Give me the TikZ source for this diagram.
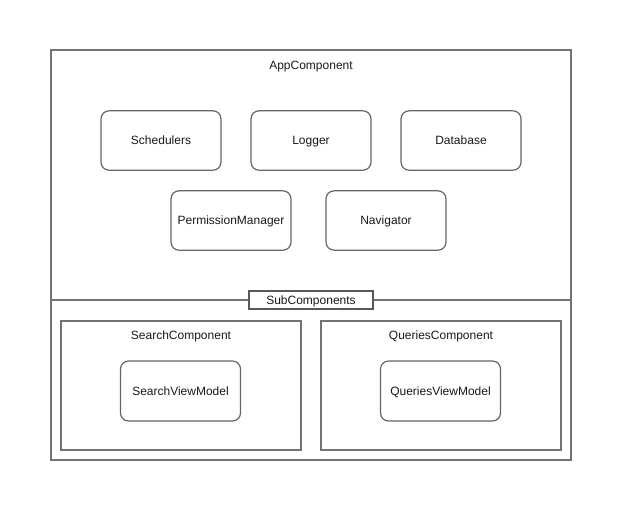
\documentclass[tikz,border=0pt]{standalone}
\usepackage{fontspec}
\setmainfont{Liberation Sans}
\begin{document}
\begin{tikzpicture}[x=0.75pt,y=-0.75pt,
  every node/.style={font=\fontsize{9}{11}\selectfont, text=black!90, text height=7.6pt, text depth=1pt},
  frame/.style={draw=black!55, line width=1.3pt},
  module/.style={draw=black!60, line width=0.9pt, rounded corners=6pt, fill=white,
    minimum width=90pt, minimum height=44.5pt, inner sep=0pt},
  tag/.style={draw=black!65, line width=0.8pt, fill=white, inner sep=0pt,
    minimum width=93pt, minimum height=13.5pt}]
  \useasboundingbox (0,0) rectangle (623,511);
  % outer component and its divider
  \draw[frame] (51,50) rectangle (571,460);
  \coordinate (divL) at (51,300);
  \coordinate (divR) at (571,300);
  \draw[frame] (divL) -- (divR);
  \node (app) at (311,65) {AppComponent};
  % application-wide modules
  \node[module] (sched) at (161,140.5) {Schedulers};
  \node[module] (logger) at (311,140.5) {Logger};
  \node[module] (db) at (461,140.5) {Database};
  \node[module] (perm) at (231,220.5) {PermissionManager};
  \node[module] (nav) at (386,220.5) {Navigator};
  % subcomponents label
  \node[tag] (sub) at (311,300) {SubComponents};
  % subcomponents
  \draw[frame] (61,321) rectangle (301,450);
  \node (search) at (181,335) {SearchComponent};
  \node[module, minimum height=45pt] (svm) at (180.5,391) {SearchViewModel};
  \draw[frame] (321,321) rectangle (561,450);
  \node (queries) at (441,335) {QueriesComponent};
  \node[module, minimum height=45pt] (qvm) at (440.5,391) {QueriesViewModel};
\end{tikzpicture}
\end{document}
